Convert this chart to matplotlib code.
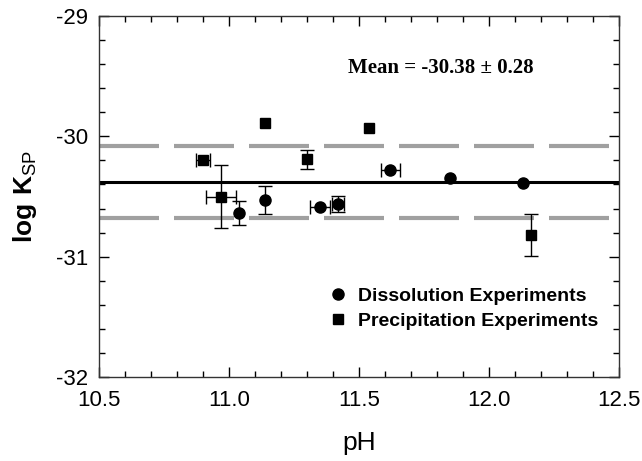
import numpy as np
import matplotlib
matplotlib.use('Agg')
import matplotlib.pyplot as plt
from matplotlib.ticker import MultipleLocator, FormatStrFormatter
from matplotlib.lines import Line2D

# dissolution experiments (circles)
dis_ph = [11.04, 11.14, 11.35, 11.42, 11.62, 11.85, 12.13]
dis_logk = [-30.64, -30.53, -30.59, -30.56, -30.28, -30.35, -30.39]
dis_xerr = [0.0, 0.0, 0.038, 0.024, 0.037, 0.0, 0.0]
dis_yerr = [0.10, 0.115, 0.0, 0.066, 0.0, 0.0, 0.0]

# precipitation experiments (squares)
pre_ph = [10.90, 10.97, 11.14, 11.30, 11.54, 12.16]
pre_logk = [-30.20, -30.50, -29.89, -30.19, -29.93, -30.82]
pre_xerr = [0.027, 0.058, 0.0, 0.0, 0.0, 0.0]
pre_yerr = [0.0, 0.26, 0.0, 0.08, 0.0, 0.176]

mean_logk = -30.38
band = [-30.08, -30.68]

plt.rcParams['font.family'] = ['Liberation Sans', 'DejaVu Sans']
plt.rcParams['mathtext.fontset'] = 'custom'
plt.rcParams['mathtext.rm'] = 'Liberation Sans'
plt.rcParams['mathtext.bf'] = 'Liberation Sans:bold'


def draw_errs(ax, xs, ys, xe, ye):
    # only points that really have an error bar
    for x, y, dx, dy in zip(xs, ys, xe, ye):
        if dx == 0 and dy == 0:
            continue
        ax.errorbar(x, y, xerr=dx if dx else None, yerr=dy if dy else None, fmt='none',
                    ecolor='black', elinewidth=1, capsize=5, capthick=1, zorder=3)


fig = plt.figure(figsize=(6.42, 4.61), dpi=100)
ax = fig.add_axes([0.1542, 0.1822, 0.81, 0.7831])

ax.axhline(mean_logk, color='black', lw=2.2, zorder=2)
for b in band:
    ax.axhline(b, color='#a0a0a0', lw=3, dashes=(14.4, 3.6), dash_capstyle='butt', zorder=1)

draw_errs(ax, dis_ph, dis_logk, dis_xerr, dis_yerr)
draw_errs(ax, pre_ph, pre_logk, pre_xerr, pre_yerr)
ax.plot(dis_ph, dis_logk, 'o', color='black', ms=8, zorder=4)
ax.plot(pre_ph, pre_logk, 's', color='black', ms=7, zorder=4)

ax.set_xlim(10.5, 12.5)
ax.set_ylim(-32, -29)
ax.xaxis.set_major_locator(MultipleLocator(0.5))
ax.xaxis.set_minor_locator(MultipleLocator(0.1))
ax.xaxis.set_major_formatter(FormatStrFormatter('%.1f'))
ax.yaxis.set_major_locator(MultipleLocator(1))
ax.yaxis.set_minor_locator(MultipleLocator(0.2))
ax.yaxis.set_major_formatter(FormatStrFormatter('%d'))
ax.tick_params(which='both', direction='in', top=True, right=True, labelsize=16, width=1)
ax.tick_params(which='major', length=7)
ax.tick_params(axis='x', which='major', pad=9)
ax.tick_params(axis='y', which='major', pad=8)
ax.tick_params(which='minor', length=4)
for s in ax.spines.values():
    s.set_linewidth(1)
    s.set_color('#333333')

ax.set_xlabel('pH', fontsize=19, labelpad=15)
ax.set_ylabel(r'$\mathbf{log\ K}_{\mathrm{SP}}$', fontsize=19, labelpad=12)

ax.text(0.479, 0.855, 'Mean = -30.38 \u00b1 0.28', transform=ax.transAxes,
        fontsize=15, fontweight='bold', family='Liberation Serif', ha='left', va='center')

handles = [Line2D([], [], marker='o', ls='', color='black', ms=8),
           Line2D([], [], marker='s', ls='', color='black', ms=7)]
ax.legend(handles, ['Dissolution Experiments', 'Precipitation Experiments'],
          loc='lower left', bbox_to_anchor=(0.43, 0.11), frameon=False,
          prop={'weight': 'bold', 'size': 14}, handlelength=0.8, handletextpad=0.6,
          labelspacing=0.35, borderaxespad=0.0)

fig.savefig('out.png', dpi=100)
